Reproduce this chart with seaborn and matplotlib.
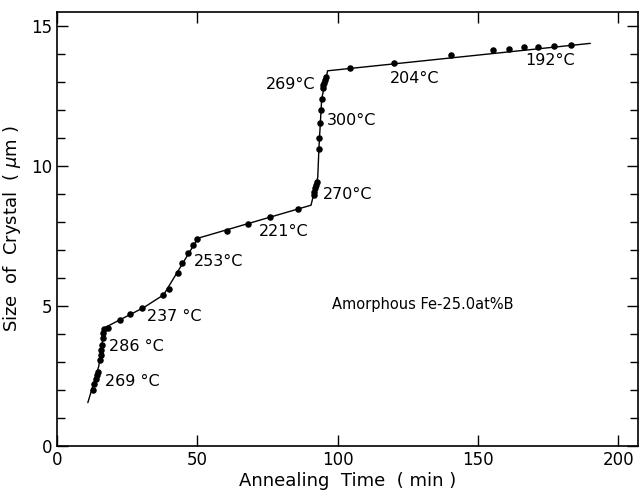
import numpy as np
import pandas as pd
import matplotlib.pyplot as plt
import seaborn as sns
from matplotlib.ticker import MultipleLocator

# measured points (annealing time in min, crystal size in um)
point_time = [12.7, 13.3, 13.9, 14.3, 14.6,
              15.3, 15.6, 15.7, 15.9, 16.3, 16.5, 16.9,
              18.2, 22.5, 26.0, 30.4,
              37.7, 40.0, 43.0, 44.7, 46.8, 48.6, 49.8,
              60.5, 68.2, 75.9, 85.8,
              91.4, 91.7, 92.0, 92.3, 92.6,
              93.2, 93.4, 93.8, 94.0, 94.3,
              94.6, 94.9, 95.2, 95.5, 95.8,
              104.5, 120.2, 140.5,
              155.3, 160.9, 166.2, 171.2, 177.1, 183.2]
point_size = [2.0, 2.2, 2.4, 2.55, 2.65,
              3.07, 3.25, 3.43, 3.6, 3.86, 4.04, 4.18,
              4.22, 4.5, 4.71, 4.93,
              5.39, 5.61, 6.19, 6.55, 6.88, 7.18, 7.38,
              7.68, 7.93, 8.19, 8.46,
              8.96, 9.08, 9.2, 9.32, 9.44,
              10.6, 11.0, 11.55, 12.0, 12.38,
              12.78, 12.88, 12.98, 13.08, 13.18,
              13.5, 13.69, 13.95,
              14.13, 14.19, 14.25, 14.25, 14.3, 14.33]

# piecewise growth line
line_time = [11.0, 14.9, 16.9, 31.0, 38.0, 50.2, 90.5, 92.9, 93.3, 94.3, 96.4, 190.0]
line_size = [1.55, 2.85, 4.22, 4.95, 5.4, 7.42, 8.6, 9.6, 10.6, 12.4, 13.4, 14.38]

# annealing temperature labels
label_text = ["269 °C", "286 °C", "237 °C", "253°C", "221°C", "270°C",
              "300°C", "269°C", "204°C", "192°C"]
label_x = [17.1, 18.5, 32.1, 48.8, 72.1, 94.7, 96.1, 92.0, 118.7, 166.8]
label_y = [2.32, 3.55, 4.62, 6.59, 7.67, 8.98, 11.63, 12.92, 13.12, 13.77]
label_ha = ["left"] * 7 + ["right", "left", "left"]

sns.set_style("ticks")
plt.rcParams['font.family'] = ['DejaVu Sans']
plt.rcParams['text.color'] = 'black'
plt.rcParams['axes.labelcolor'] = 'black'

fig = plt.figure(figsize=(6.4, 4.9), dpi=100)
ax = fig.add_axes([0.089, 0.0898, 0.908, 0.8857])

line_df = pd.DataFrame({"t": line_time, "d": line_size})
pts_df = pd.DataFrame({"t": point_time, "d": point_size})

sns.lineplot(data=line_df, x="t", y="d", color="black", linewidth=1.0,
             estimator=None, ax=ax)
sns.scatterplot(data=pts_df, x="t", y="d", color="black", s=22,
                edgecolor="black", linewidth=0, ax=ax, zorder=3)

for txt, x, y, ha in zip(label_text, label_x, label_y, label_ha):
    ax.text(x, y, txt, ha=ha, va="center", fontsize=11.5, color="black")

ax.text(97.9, 5.04, "Amorphous Fe-25.0at%B", ha="left", va="center",
        fontsize=10.5, color="black")

ax.set_xlim(0, 207)
ax.set_ylim(0, 15.5)
ax.xaxis.set_major_locator(MultipleLocator(50))
ax.yaxis.set_major_locator(MultipleLocator(5))
ax.yaxis.set_minor_locator(MultipleLocator(1))
ax.tick_params(which="both", direction="in", top=True, right=True,
               labelsize=12, colors="black")
ax.tick_params(which="major", length=8, width=1)
ax.tick_params(which="minor", length=6, width=1)
for sp in ax.spines.values():
    sp.set_visible(True)
    sp.set_linewidth(1.2)
    sp.set_color("black")

ax.set_xlabel("Annealing  Time  ( min )", fontsize=13, labelpad=2)
ax.set_ylabel(r"Size  of  Crystal  ( $\mu$m )", fontsize=13, labelpad=6)

fig.savefig("out.png", dpi=100)
